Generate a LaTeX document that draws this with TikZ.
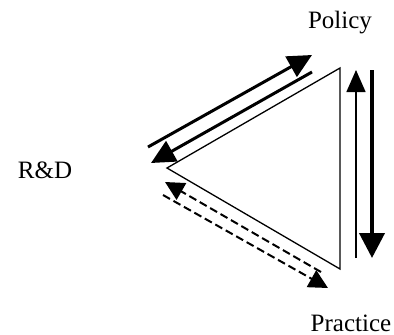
\documentclass[tikz,border=0pt]{standalone}
\usepackage{fontspec}
\setmainfont{Liberation Serif}
\usetikzlibrary{arrows.meta}
\begin{document}
\begin{tikzpicture}[x=1pt,y=-1pt,
  lbl/.style={anchor=base,inner sep=0pt,font=\fontsize{25}{29}\selectfont},
  tri/.style={draw=black,line width=1.3pt,line join=miter},
  solidarr/.style={line width=3pt,-{Triangle[length=24pt,width=23pt]}},
  thinarr/.style={line width=1.5pt,-{Triangle[length=22pt,width=19pt]}},
  thickarr/.style={line width=4pt,-{Triangle[length=25pt,width=25pt]}},
  dasharr/.style={line width=2pt,dash pattern=on 8pt off 4pt,-{Triangle[length=19pt,width=19pt]}}]
\useasboundingbox (0,0) rectangle (394,335);
% labels
\node[lbl] (policy) at (340,28) {Policy};
\node[lbl] (practice) at (351,331) {Practice};
\node[lbl] (rd) at (45,178) {R\&D};
% triangle
\coordinate (T) at (340,68);
\coordinate (L) at (167,168);
\coordinate (B) at (340,269);
\draw[tri] (T) -- (L) -- (B) -- cycle;
% upper-left pair
\coordinate (a1) at (148,147);
\coordinate (a2) at (312,55);
\coordinate (b1) at (312,72);
\coordinate (b2) at (151,163);
\draw[solidarr] (a1) -- (a2);
\draw[solidarr] (b1) -- (b2);
% lower-left dashed pair
\coordinate (c1) at (163,195);
\coordinate (c2) at (328,288);
\coordinate (d1) at (321,272);
\coordinate (d2) at (165,182);
\draw[dasharr] (c1) -- (c2);
\draw[dasharr] (d1) -- (d2);
% right pair
\coordinate (e1) at (356,258);
\coordinate (e2) at (356,70);
\coordinate (f1) at (372,70);
\coordinate (f2) at (372,258);
\draw[thinarr] (e1) -- (e2);
\draw[thickarr] (f1) -- (f2);
\end{tikzpicture}
\end{document}
